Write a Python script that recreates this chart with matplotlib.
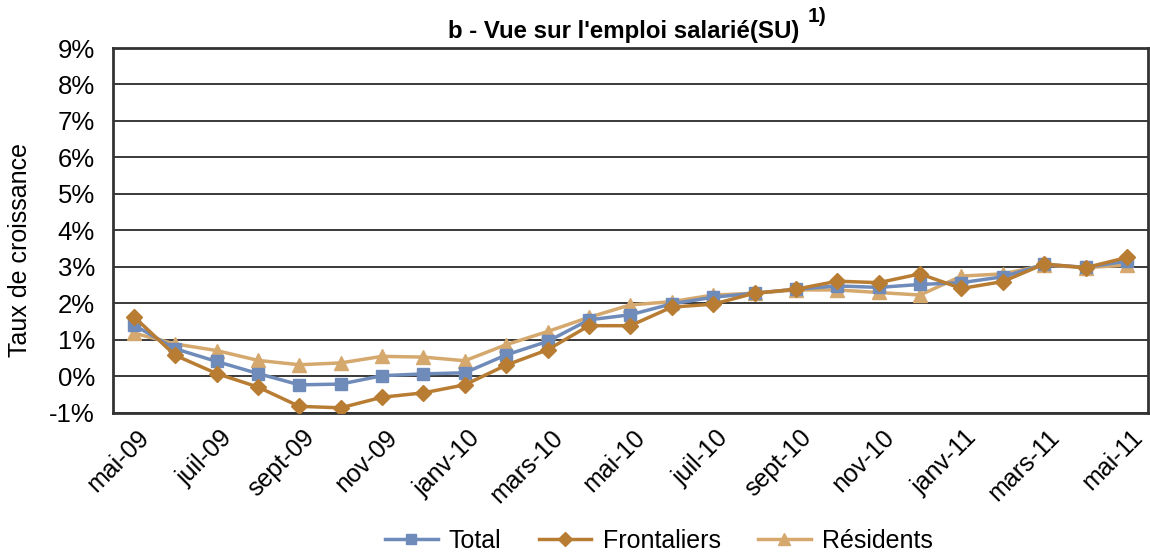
import numpy as np
import matplotlib.pyplot as plt
import matplotlib.transforms as mtransforms

plt.rcParams['font.family'] = ['Liberation Sans', 'DejaVu Sans']

# data (growth rate, %)
months = ["mai-09", "juin-09", "juil-09", "août-09", "sept-09", "oct-09", "nov-09", "déc-09",
          "janv-10", "févr-10", "mars-10", "avr-10", "mai-10", "juin-10", "juil-10", "août-10",
          "sept-10", "oct-10", "nov-10", "déc-10", "janv-11", "févr-11", "mars-11", "avr-11", "mai-11"]
total = [1.41, 0.76, 0.41, 0.08, -0.23, -0.21, 0.02, 0.07, 0.10, 0.59, 0.96, 1.55, 1.69,
         1.99, 2.17, 2.28, 2.39, 2.48, 2.44, 2.52, 2.57, 2.73, 3.07, 2.99, 3.16]
frontaliers = [1.64, 0.58, 0.08, -0.29, -0.82, -0.86, -0.57, -0.45, -0.23, 0.31, 0.73, 1.39, 1.39,
               1.90, 1.98, 2.28, 2.39, 2.61, 2.57, 2.81, 2.41, 2.60, 3.08, 2.98, 3.26]
residents = [1.19, 0.89, 0.71, 0.44, 0.32, 0.37, 0.55, 0.53, 0.43, 0.87, 1.23, 1.62, 1.96,
             2.05, 2.23, 2.28, 2.37, 2.37, 2.30, 2.23, 2.75, 2.81, 3.05, 2.98, 3.05]

c_total = "#6f8bba"
c_front = "#b87d33"
c_res = "#d5a86e"

fig = plt.figure(figsize=(11.5, 5.55), dpi=100)
ax = fig.add_axes([0.0983, 0.256, 0.8997, 0.6575])

x = np.arange(len(months))
ax.plot(x, total, color=c_total, lw=2.5, marker="s", ms=9, label="Total", zorder=3)
ax.plot(x, frontaliers, color=c_front, lw=2.5, marker="D", ms=8.5, label="Frontaliers", zorder=4)
ax.plot(x, residents, color=c_res, lw=2.5, marker="^", ms=10, label="Résidents", zorder=2)

ax.set_xlim(-0.5, len(months) - 0.5)
ax.set_ylim(-1, 9)
yt = np.arange(-1, 10)
ax.set_yticks(yt)
ax.set_yticklabels([f"{v}%" for v in yt], fontsize=18.5)
ax.yaxis.grid(True, color="#2a2a2a", lw=1.3)
ax.set_axisbelow(True)
ax.set_xticks(x[::2])
ax.set_xticklabels(months[::2], rotation=45, ha="right", rotation_mode="anchor", fontsize=18)
ax.tick_params(axis="y", length=0, pad=13)
ax.tick_params(axis="x", length=0, pad=9)
shift = mtransforms.ScaledTranslation(0.03, 0, fig.dpi_scale_trans)
for lab in ax.get_xticklabels():
    lab.set_transform(lab.get_transform() + shift)
for s in ax.spines.values():
    s.set_color("#333333")
    s.set_linewidth(2.0)

fig.text(0.017, 0.55, "Taux de croissance", rotation=90, fontsize=18, va="center", ha="center")
fig.text(624 / 1150, 1 - 43 / 555, "b - Vue sur l'emploi salarié(SU)",
         fontsize=17.3, fontweight="bold", ha="center", va="bottom")
fig.text(808 / 1150, 1 - 26 / 555, "1)", fontsize=15, fontweight="bold", ha="left", va="bottom")

fig.legend(loc="center", bbox_to_anchor=(0.573, 0.025), ncol=3, frameon=False,
           fontsize=18, handlelength=2.1, columnspacing=1.5, handletextpad=0.45,
           markerscale=0.85)

fig.savefig("out.png", dpi=100)
